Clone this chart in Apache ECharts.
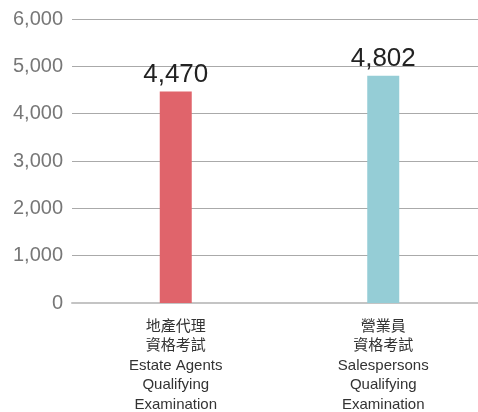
<!DOCTYPE html>
<html>
<head>
<meta charset="utf-8">
<style>
  html, body { margin: 0; padding: 0; background: #fff; }
  #chart { width: 478px; height: 412px; }
</style>
<script src="https://cdn.jsdelivr.net/npm/echarts@6/dist/echarts.min.js"></script>
</head>
<body>
<div id="chart"></div>
<script>
var categories = [
    '地產代理\n資格考試\nEstate Agents\nQualifying\nExamination',
    '營業員\n資格考試\nSalespersons\nQualifying\nExamination'
];
var values = [4470, 4802];
var barColors = ['#e0646b', '#95cdd6'];

var chart = echarts.init(document.getElementById('chart'));

var option = {
    animation: false,
    grid: {
        left: 72,
        right: -9,
        top: 19,
        bottom: 109,
        containLabel: false,
        outerBoundsMode: 'none'
    },
    xAxis: {
        type: 'category',
        data: categories,
        axisLine: { lineStyle: { color: '#c4c4c4', width: 2 } },
        axisTick: { show: false },
        axisLabel: {
            margin: 14,
            fontSize: 15,
            lineHeight: 19.5,
            color: '#333',
            fontFamily: 'Liberation Sans, Noto Sans CJK TC, sans-serif'
        }
    },
    yAxis: {
        type: 'value',
        min: 0,
        max: 6000,
        interval: 1000,
        axisLine: { show: false },
        axisTick: { show: false },
        splitLine: { lineStyle: { color: '#aaa', width: 1 } },
        axisLabel: {
            margin: 9,
            fontSize: 20,
            color: '#777',
            fontFamily: 'Liberation Sans, sans-serif',
            formatter: function (v) {
                return v.toLocaleString('en-US');
            }
        }
    },
    series: [{
        type: 'bar',
        barWidth: 32,
        data: values.map(function (v, i) {
            return { value: v, itemStyle: { color: barColors[i] } };
        }),
        label: {
            show: true,
            position: 'top',
            distance: 4,
            fontSize: 26,
            color: '#222',
            fontFamily: 'Liberation Sans, sans-serif',
            formatter: function (p) {
                return p.value.toLocaleString('en-US');
            }
        }
    }]
};

chart.setOption(option);
</script>
</body>
</html>
